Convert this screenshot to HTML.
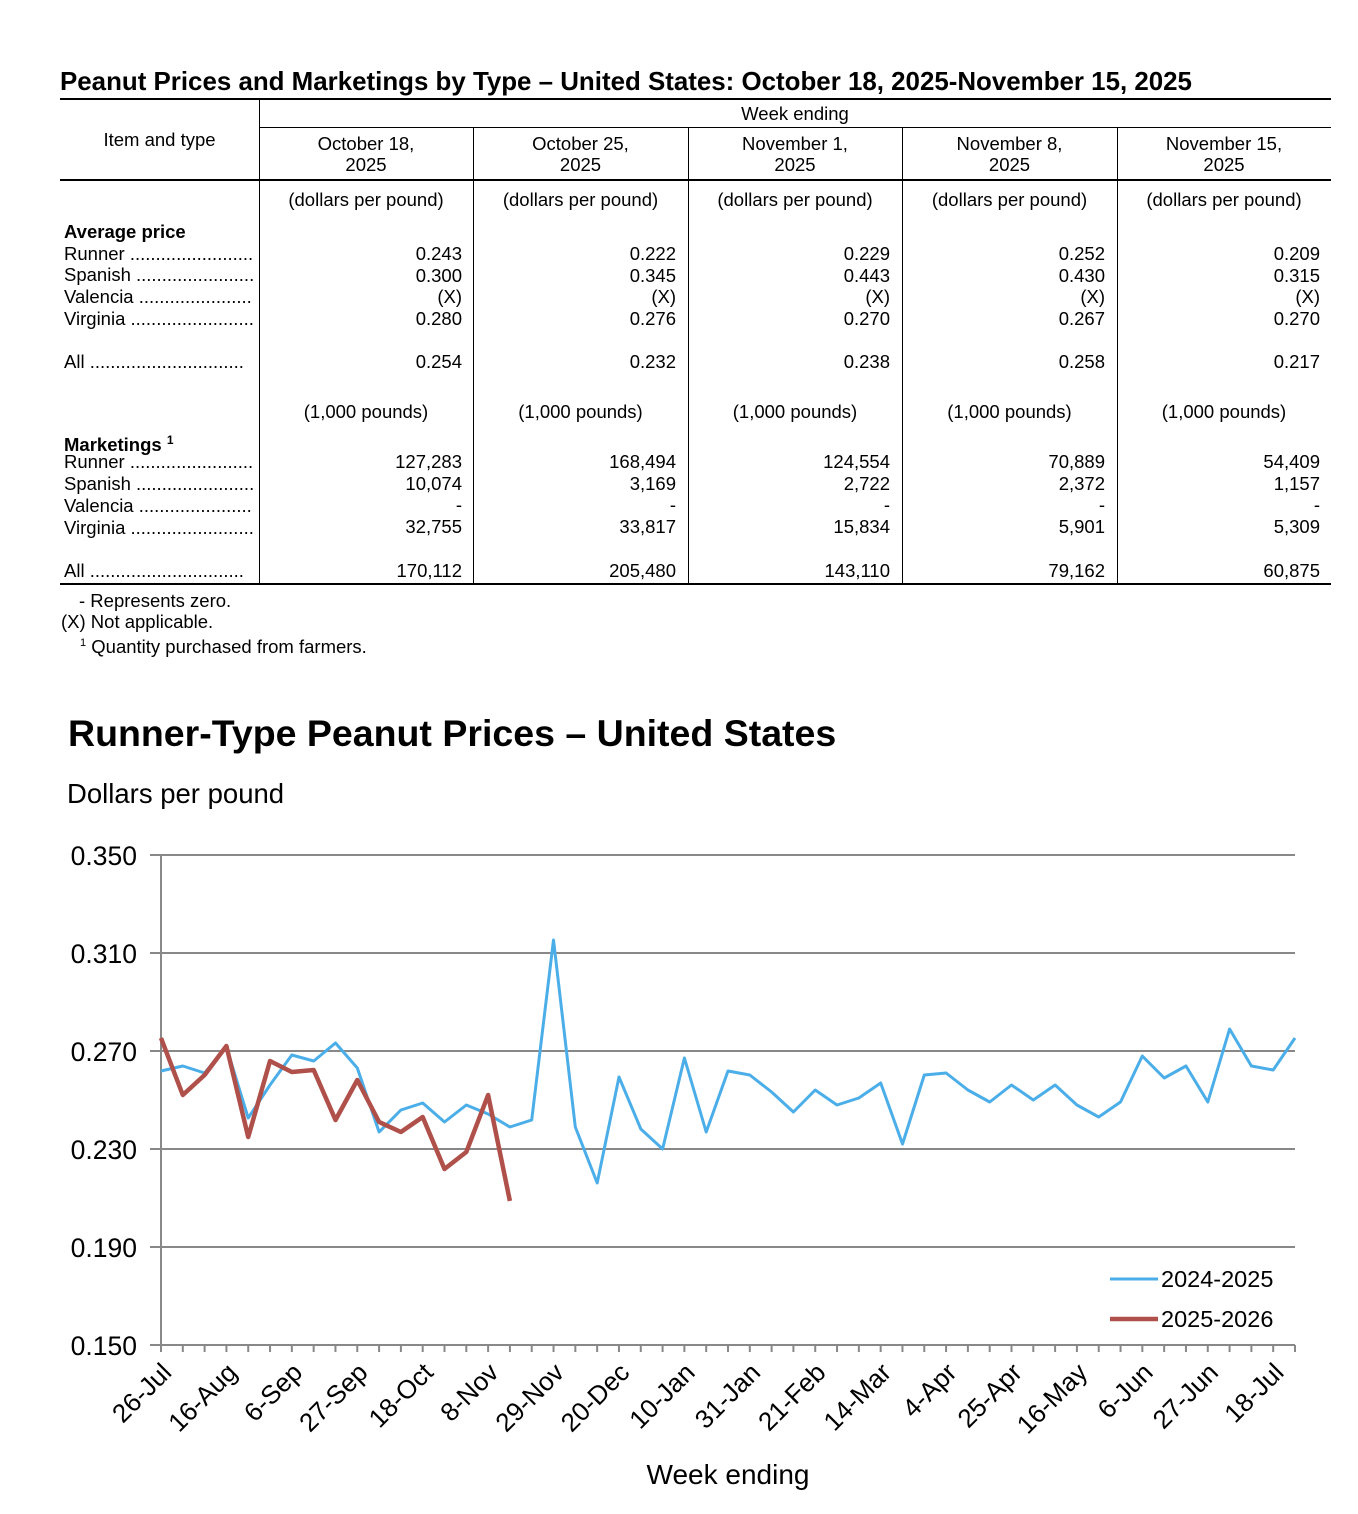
<!DOCTYPE html>
<html><head><meta charset="utf-8"><style>
body{margin:0;width:1358px;height:1514px;background:#fff;font-family:"Liberation Sans",Arial,sans-serif;color:#000;position:relative;overflow:hidden}
.a{position:absolute;white-space:nowrap;line-height:21px;font-size:18.5px}
.r{text-align:right}
.c{text-align:center}
.b{font-weight:bold}
.hl{position:absolute;background:#000;height:2px}
.vl{position:absolute;background:#000;width:1px}
.a.r{line-height:21.7px}
</style></head><body>
<div class="a b" style="left:60px;top:69px;font-size:25.9px;line-height:26px">Peanut Prices and Marketings by Type – United States: October 18, 2025-November 15, 2025</div>
<div class="hl" style="left:60px;top:98px;width:1271px"></div>
<div class="hl" style="left:259px;top:127px;width:1072px;height:1px"></div>
<div class="hl" style="left:60px;top:179px;width:1271px"></div>
<div class="hl" style="left:60px;top:583px;width:1271px"></div>
<div class="vl" style="left:259px;top:99px;height:485px"></div>
<div class="vl" style="left:473px;top:127px;height:457px"></div>
<div class="vl" style="left:688px;top:127px;height:457px"></div>
<div class="vl" style="left:902px;top:127px;height:457px"></div>
<div class="vl" style="left:1117px;top:127px;height:457px"></div>
<div class="a c" style="left:259px;width:1072px;top:103px">Week ending</div>
<div class="a c" style="left:60px;width:199px;top:129px">Item and type</div>
<div class="a c" style="left:259px;width:214px;top:133px">October 18,<br>2025</div>
<div class="a c" style="left:473px;width:215px;top:133px">October 25,<br>2025</div>
<div class="a c" style="left:688px;width:214px;top:133px">November 1,<br>2025</div>
<div class="a c" style="left:902px;width:215px;top:133px">November 8,<br>2025</div>
<div class="a c" style="left:1117px;width:214px;top:133px">November 15,<br>2025</div>

<div class="a c" style="left:259px;width:214px;top:189px">(dollars per pound)</div>
<div class="a c" style="left:473px;width:215px;top:189px">(dollars per pound)</div>
<div class="a c" style="left:688px;width:214px;top:189px">(dollars per pound)</div>
<div class="a c" style="left:902px;width:215px;top:189px">(dollars per pound)</div>
<div class="a c" style="left:1117px;width:214px;top:189px">(dollars per pound)</div>

<div class="a c" style="left:259px;width:214px;top:401px">(1,000 pounds)</div>
<div class="a c" style="left:473px;width:215px;top:401px">(1,000 pounds)</div>
<div class="a c" style="left:688px;width:214px;top:401px">(1,000 pounds)</div>
<div class="a c" style="left:902px;width:215px;top:401px">(1,000 pounds)</div>
<div class="a c" style="left:1117px;width:214px;top:401px">(1,000 pounds)</div>

<div class="a b" style="left:64px;top:221px">Average price</div>
<div class="a" style="left:64px;top:243px">Runner ........................</div>
<div class="a" style="left:64px;top:264px">Spanish .......................</div>
<div class="a" style="left:64px;top:286px">Valencia ......................</div>
<div class="a" style="left:64px;top:308px">Virginia ........................</div>
<div class="a" style="left:64px;top:351px">All  ..............................</div>
<div class="a b" style="left:64px;top:430px">Marketings <sup style="font-size:12px">1</sup></div>
<div class="a" style="left:64px;top:451px">Runner ........................</div>
<div class="a" style="left:64px;top:473px">Spanish .......................</div>
<div class="a" style="left:64px;top:495px">Valencia ......................</div>
<div class="a" style="left:64px;top:517px">Virginia ........................</div>
<div class="a" style="left:64px;top:560px">All  ..............................</div>

<div class="a r" style="left:259px;width:203px;top:243px">0.243<br>0.300<br>(X)<br>0.280</div>
<div class="a r" style="left:473px;width:203px;top:243px">0.222<br>0.345<br>(X)<br>0.276</div>
<div class="a r" style="left:688px;width:202px;top:243px">0.229<br>0.443<br>(X)<br>0.270</div>
<div class="a r" style="left:902px;width:203px;top:243px">0.252<br>0.430<br>(X)<br>0.267</div>
<div class="a r" style="left:1117px;width:203px;top:243px">0.209<br>0.315<br>(X)<br>0.270</div>
<div class="a r" style="left:259px;width:203px;top:351px">0.254</div>
<div class="a r" style="left:473px;width:203px;top:351px">0.232</div>
<div class="a r" style="left:688px;width:202px;top:351px">0.238</div>
<div class="a r" style="left:902px;width:203px;top:351px">0.258</div>
<div class="a r" style="left:1117px;width:203px;top:351px">0.217</div>

<div class="a r" style="left:259px;width:203px;top:451px">127,283<br>10,074<br>-<br>32,755</div>
<div class="a r" style="left:473px;width:203px;top:451px">168,494<br>3,169<br>-<br>33,817</div>
<div class="a r" style="left:688px;width:202px;top:451px">124,554<br>2,722<br>-<br>15,834</div>
<div class="a r" style="left:902px;width:203px;top:451px">70,889<br>2,372<br>-<br>5,901</div>
<div class="a r" style="left:1117px;width:203px;top:451px">54,409<br>1,157<br>-<br>5,309</div>
<div class="a r" style="left:259px;width:203px;top:560px">170,112</div>
<div class="a r" style="left:473px;width:203px;top:560px">205,480</div>
<div class="a r" style="left:688px;width:202px;top:560px">143,110</div>
<div class="a r" style="left:902px;width:203px;top:560px">79,162</div>
<div class="a r" style="left:1117px;width:203px;top:560px">60,875</div>

<div class="a" style="left:79px;top:590px">- Represents zero.</div>
<div class="a" style="left:61px;top:611px">(X) Not applicable.</div>
<div class="a" style="left:80px;top:633px"><sup style="font-size:11px">1</sup> Quantity purchased from farmers.</div>

<div class="a b" style="left:68px;top:711px;font-size:37.5px;line-height:44px">Runner-Type Peanut Prices – United States</div>
<div class="a" style="left:67px;top:778px;font-size:27.5px;line-height:32px">Dollars per pound</div>
<div class="a c" style="left:578px;width:300px;top:1459px;font-size:28px;line-height:32px">Week ending</div>

<svg width="1358" height="1514" style="position:absolute;left:0;top:0" font-family="Liberation Sans, Arial, sans-serif">
<g stroke="#888" stroke-width="2">
<line x1="150" y1="855" x2="1295" y2="855"/>
<line x1="150" y1="953" x2="1295" y2="953"/>
<line x1="150" y1="1051" x2="1295" y2="1051"/>
<line x1="150" y1="1149" x2="1295" y2="1149"/>
<line x1="150" y1="1247" x2="1295" y2="1247"/>
<line x1="150" y1="1345" x2="1295" y2="1345"/>
<line x1="161" y1="855" x2="161" y2="1352"/>
</g>
<g id="ticks" stroke="#888" stroke-width="2"></g>
<g font-size="26.5" text-anchor="end">
<text x="137" y="865">0.350</text>
<text x="137" y="963">0.310</text>
<text x="137" y="1061">0.270</text>
<text x="137" y="1159">0.230</text>
<text x="137" y="1257">0.190</text>
<text x="137" y="1355">0.150</text>
</g>
<g id="xl" font-size="26" text-anchor="end"></g>
<polyline id="blue" fill="none" stroke="#4BAEE8" stroke-width="3" stroke-linejoin="round" points=""/>
<polyline id="red" fill="none" stroke="#B0504A" stroke-width="4.5" stroke-linejoin="round" points=""/>
<line x1="1110" y1="1279" x2="1158" y2="1279" stroke="#4BAEE8" stroke-width="3"/>
<line x1="1110" y1="1319" x2="1158" y2="1319" stroke="#B0504A" stroke-width="4.5"/>
<text x="1161" y="1287" font-size="23.5">2024-2025</text>
<text x="1161" y="1327" font-size="23.5">2025-2026</text>
</svg>
<script>
var B=[1071,1066,1073,1047,1118,1085,1055,1061,1043,1068,1132,1110,1103,1122,1105,1114,1127,1120,940,1127,1183,1077,1129,1149,1058,1132,1071,1075,1092,1112,1090,1105,1098,1083,1144,1075,1073,1090,1102,1085,1100,1085,1105,1117,1102,1056,1078,1066,1102,1029,1066,1070,1038];
var R=[1038,1095,1075,1046,1137,1061,1072,1070,1120,1080,1122,1132,1117,1169,1152,1095,1201];
function X(i){return 161+i*1134/52;}
document.getElementById('blue').setAttribute('points',B.map((y,i)=>X(i).toFixed(1)+','+y).join(' '));
document.getElementById('red').setAttribute('points',R.map((y,i)=>X(i).toFixed(1)+','+y).join(' '));
var t='',l='';
var L=['26-Jul','16-Aug','6-Sep','27-Sep','18-Oct','8-Nov','29-Nov','20-Dec','10-Jan','31-Jan','21-Feb','14-Mar','4-Apr','25-Apr','16-May','6-Jun','27-Jun','18-Jul'];
for(var i=0;i<=52;i++){t+='<line x1="'+X(i)+'" y1="1345" x2="'+X(i)+'" y2="1352"/>';}
L.forEach((s,k)=>{var x=X(k*3)+12,y=1374;l+='<text transform="translate('+x+','+y+') rotate(-45)">'+s+'</text>';});
document.getElementById('ticks').innerHTML=t;
document.getElementById('xl').innerHTML=l;
</script>
</body></html>
